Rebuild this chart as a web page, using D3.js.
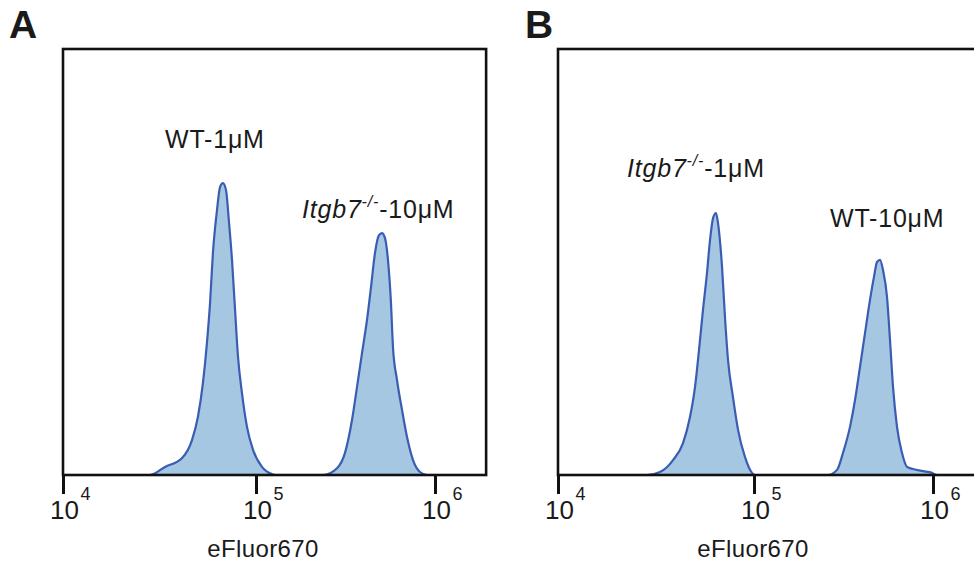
<!DOCTYPE html>
<html>
<head>
<meta charset="utf-8">
<script src="https://cdn.jsdelivr.net/npm/d3@7"></script>
<style>
  body { margin: 0; background: #fff; }
  text { font-family: "Liberation Sans", Arial, sans-serif; fill: #1a1a1a; }
</style>
</head>
<body>
<svg id="chart" width="974" height="564"></svg>
<script>
// x ticks and axis title
const xTicks = [1e4, 1e5, 1e6];
const tickExp = ["4", "5", "6"];
const axisTitle = "eFluor670";

// Panel A, peak 1 (WT-1uM): eFluor670 intensity / count (% of plot height)
const a1X = [28200, 33800, 41400, 46600, 50000, 53100, 55700, 57800, 59800, 62800, 65100, 67400, 69900, 72500, 75100, 77900, 80700, 84600, 89800, 96500, 108000, 122800, 127600];
const a1Y = [0, 1.9, 4.0, 8.2, 13.6, 21.6, 31.0, 40.4, 52.1, 62.2, 67.6, 68.5, 66.9, 59.2, 50.5, 38.7, 27.7, 19.2, 11.3, 5.9, 1.9, 0.2, 0];
// Panel A, peak 2 (Itgb7-/- 10uM)
const a2X = [236700, 283500, 314200, 343800, 366800, 391000, 417000, 439000, 462000, 486600, 505700, 525700, 546000, 567600, 582400, 613400, 654100, 697800, 753800, 824500, 902000];
const a2Y = [0, 1.6, 5.2, 12.9, 20.7, 28.6, 36.4, 44.1, 52.1, 56.3, 56.8, 55.6, 50.5, 40.4, 30.0, 22.3, 15.3, 8.9, 3.5, 0.7, 0];
// Panel B, peak 1 (Itgb7-/- 1uM)
const b1X = [28450, 33140, 38620, 43430, 47140, 50020, 52400, 54900, 57560, 59660, 61800, 64000, 65500, 68700, 71100, 73700, 78100, 82900, 90000, 97700, 101300];
const b1Y = [0, 0.7, 3.5, 7.5, 13.6, 20.7, 29.3, 38.7, 47.4, 55.2, 60.3, 61.5, 59.2, 48.8, 37.1, 27.0, 18.3, 10.6, 4.2, 0.5, 0];
// Panel B, peak 2 (WT-10uM)
const b2X = [259000, 291000, 314200, 343800, 366800, 391000, 417000, 444700, 468000, 486600, 505700, 525700, 553400, 575200, 597900, 629400, 671000, 715600, 773400, 879500, 987300, 1053000];
const b2Y = [0, 1.2, 5.2, 11.3, 17.6, 25.4, 33.3, 41.1, 46.5, 50.0, 50.5, 48.1, 41.8, 31.7, 20.7, 11.3, 5.2, 1.9, 1.4, 0.9, 0.5, 0];

const xMaxA = 1.93e6;
const xMaxB = 1.8e6;

const svg = d3.select("#chart");
const plotTop = 49, plotBottom = 475;

const y = d3.scaleLinear().domain([0, 100]).range([plotBottom, plotTop]);

const panels = [
  { letter: "A", letterX: 9, tickPx: [63, 256, 435], xMax: xMaxA, peaks: [[a1X, a1Y], [a2X, a2Y]], titleX: 263,
    labels: [
      { x: 165, y: 148, italic: "", sup: "", rest: "WT-1\u03bcM" },
      { x: 302, y: 218, italic: "Itgb7", sup: "-/-", rest: "-10\u03bcM" }
    ] },
  { letter: "B", letterX: 525, tickPx: [558, 754, 933], xMax: xMaxB, peaks: [[b1X, b1Y], [b2X, b2Y]], titleX: 753,
    labels: [
      { x: 627, y: 177, italic: "Itgb7", sup: "-/-", rest: "-1\u03bcM" },
      { x: 830, y: 227, italic: "", sup: "", rest: "WT-10\u03bcM" }
    ] }
];

panels.forEach(p => {
  // piecewise log scale (flow cytometry axis is not evenly spaced)
  const x = d3.scaleLog().domain(xTicks).range(p.tickPx);
  const left = x(xTicks[0]), right = x(p.xMax);
  const g = svg.append("g");

  // build one trace: baseline + both peaks
  let pts = [{ x: xTicks[0], y: 0 }];
  p.peaks.forEach(([xs, ys]) => xs.forEach((v, i) => pts.push({ x: v, y: ys[i] })));
  pts.push({ x: p.xMax, y: 0 });

  const area = d3.area()
    .x(d => x(d.x)).y0(y(0)).y1(d => y(d.y))
    .curve(d3.curveMonotoneX);
  const line = d3.line()
    .x(d => x(d.x)).y(d => y(d.y))
    .curve(d3.curveMonotoneX);

  g.append("path").datum(pts).attr("d", area).attr("fill", "#a5c7e1");
  g.append("path").datum(pts).attr("d", line)
    .attr("fill", "none").attr("stroke", "#3a5db3").attr("stroke-width", 2.2);

  // frame
  g.append("rect")
    .attr("x", left).attr("y", plotTop)
    .attr("width", right - left).attr("height", plotBottom - plotTop)
    .attr("fill", "none").attr("stroke", "#111").attr("stroke-width", 2.6);

  // bottom axis ticks
  const axis = d3.axisBottom(x).tickValues(xTicks).tickSize(19).tickFormat("");
  const ax = g.append("g").attr("transform", `translate(0,${plotBottom})`).call(axis);
  ax.select(".domain").remove();
  ax.selectAll(".tick line").attr("stroke", "#111").attr("stroke-width", 3);
  ax.selectAll(".tick").each(function (d, i) {
    const t = d3.select(this);
    t.append("text").attr("x", 1).attr("y", 44).attr("text-anchor", "middle")
      .attr("fill", "#1a1a1a").style("font-size", "26px").text("10");
    t.append("text").attr("x", 17).attr("y", 25).attr("text-anchor", "start")
      .attr("fill", "#1a1a1a").style("font-size", "18px").text(tickExp[i]);
  });

  // axis title
  g.append("text").attr("x", p.titleX).attr("y", 557).attr("text-anchor", "middle")
    .style("font-size", "24px").style("letter-spacing", "0.4px").text(axisTitle);

  // panel letter
  g.append("text").attr("x", p.letterX).attr("y", 38)
    .style("font-size", "39px").style("font-weight", "bold").text(p.letter);

  // peak labels
  p.labels.forEach(l => {
    const t = g.append("text").attr("x", l.x).attr("y", l.y)
      .style("font-size", "25px").style("letter-spacing", "0.8px");
    if (l.italic) {
      t.append("tspan").style("font-style", "italic").text(l.italic);
      t.append("tspan").style("font-style", "italic").style("font-size", "16px")
        .attr("dy", -11).text(l.sup);
      t.append("tspan").attr("dy", 11).text(l.rest);
    } else {
      t.text(l.rest);
    }
  });
});
</script>
</body>
</html>
